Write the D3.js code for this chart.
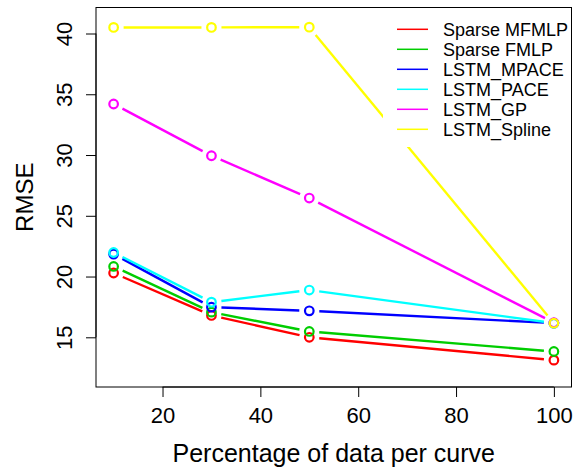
<!DOCTYPE html>
<html>
<head>
  <meta charset="utf-8">
  <style>
    body { margin: 0; background: #fff; }
    svg text { font-family: "Liberation Sans", Arial, sans-serif; fill: #000; }
  </style>
</head>
<body>
  <svg id="chart" width="579" height="471"></svg>
  <script src="https://d3js.org/d3.v7.min.js"></script>
  <script>
    // data
    const percents = [10, 30, 50, 100];
    const seriesNames = ["Sparse MFMLP", "Sparse FMLP", "LSTM_MPACE", "LSTM_PACE", "LSTM_GP", "LSTM_Spline"];
    const seriesColors = ["#ff0000", "#00cd00", "#0000ff", "#00ffff", "#ff00ff", "#ffff00"];
    const mfmlp = [20.29, 16.80, 15.00, 13.12];
    const fmlp = [20.83, 17.07, 15.48, 13.83];
    const mpace = [21.85, 17.48, 17.18, 16.17];
    const pace = [21.98, 17.89, 18.89, 16.17];
    const gp = [34.20, 29.94, 26.46, 16.20];
    const spline = [40.50, 40.50, 40.52, 16.16];
    const xTicks = [20, 40, 60, 80, 100];
    const yTicks = [15, 20, 25, 30, 35, 40];

    const allSeries = [mfmlp, fmlp, mpace, pace, gp, spline];

    const svg = d3.select("#chart");
    const pLeft = 96, pRight = 571.5, pTop = 7.5, pBottom = 387;

    const x = d3.scaleLinear().domain([6.4, 103.6]).range([pLeft, pRight]);
    const y = d3.scaleLinear().domain([10.91, 42.14]).range([pBottom, pTop]);

    // lines with gaps around the points (R type = "b")
    const gap = 10;
    allSeries.forEach((vals, i) => {
      const g = svg.append("g");
      const pts = percents.map((p, j) => [x(p), y(vals[j])]);
      for (let j = 0; j < pts.length - 1; j++) {
        const [x0, y0] = pts[j], [x1, y1] = pts[j + 1];
        const len = Math.hypot(x1 - x0, y1 - y0);
        if (len <= 2 * gap) continue;
        const ux = (x1 - x0) / len, uy = (y1 - y0) / len;
        g.append("line")
          .attr("x1", x0 + ux * gap).attr("y1", y0 + uy * gap)
          .attr("x2", x1 - ux * gap).attr("y2", y1 - uy * gap)
          .attr("stroke", seriesColors[i])
          .attr("stroke-width", 2.4);
      }
      g.selectAll("circle")
        .data(pts)
        .join("circle")
        .attr("cx", d => d[0])
        .attr("cy", d => d[1])
        .attr("r", 4.3)
        .attr("fill", "none")
        .attr("stroke", seriesColors[i])
        .attr("stroke-width", 2.2);
    });

    // legend (white background, no border)
    const legend = svg.append("g");
    legend.append("rect")
      .attr("x", 383).attr("y", pTop)
      .attr("width", pRight - 383).attr("height", 147 - pTop)
      .attr("fill", "#fff");
    seriesNames.forEach((name, i) => {
      const cy = 29.3 + i * 20;
      legend.append("line")
        .attr("x1", 397).attr("x2", 428)
        .attr("y1", cy).attr("y2", cy)
        .attr("stroke", seriesColors[i])
        .attr("stroke-width", 1.5);
      legend.append("text")
        .attr("x", 443).attr("y", cy + 6.3)
        .style("font-size", "18px")
        .text(name);
    });

    // plot box
    svg.append("rect")
      .attr("x", pLeft).attr("y", pTop)
      .attr("width", pRight - pLeft).attr("height", pBottom - pTop)
      .attr("fill", "none")
      .attr("stroke", "#000")
      .attr("stroke-width", 1);

    // x axis
    const xAxis = svg.append("g")
      .attr("transform", "translate(0," + pBottom + ")")
      .call(d3.axisBottom(x).tickValues(xTicks).tickSize(10).tickSizeOuter(0));
    xAxis.select(".domain").attr("d", "M" + x(20) + ",0H" + x(100)).attr("stroke", "#000");
    xAxis.selectAll(".tick line").attr("stroke", "#000");
    xAxis.selectAll("text")
      .attr("dy", null)
      .attr("y", 36)
      .style("font-size", "22px")
      .style("font-family", "'Liberation Sans', Arial, sans-serif");

    // y axis
    const yAxis = svg.append("g")
      .attr("transform", "translate(" + pLeft + ",0)")
      .call(d3.axisLeft(y).tickValues(yTicks).tickSize(10).tickSizeOuter(0));
    yAxis.select(".domain").attr("d", "M0," + y(15) + "V" + y(40)).attr("stroke", "#000");
    yAxis.selectAll(".tick line").attr("stroke", "#000");
    yAxis.selectAll("text")
      .attr("x", null).attr("dy", null)
      .attr("text-anchor", "middle")
      .attr("transform", "translate(-24,0) rotate(-90)")
      .attr("y", 0)
      .style("font-size", "22px")
      .style("font-family", "'Liberation Sans', Arial, sans-serif");

    // axis titles
    svg.append("text")
      .attr("x", (pLeft + pRight) / 2).attr("y", 462)
      .attr("text-anchor", "middle")
      .style("font-size", "25px")
      .text("Percentage of data per curve");
    svg.append("text")
      .attr("transform", "translate(33," + (pTop + pBottom) / 2 + ") rotate(-90)")
      .attr("text-anchor", "middle")
      .style("font-size", "24px")
      .text("RMSE");
  </script>
</body>
</html>
